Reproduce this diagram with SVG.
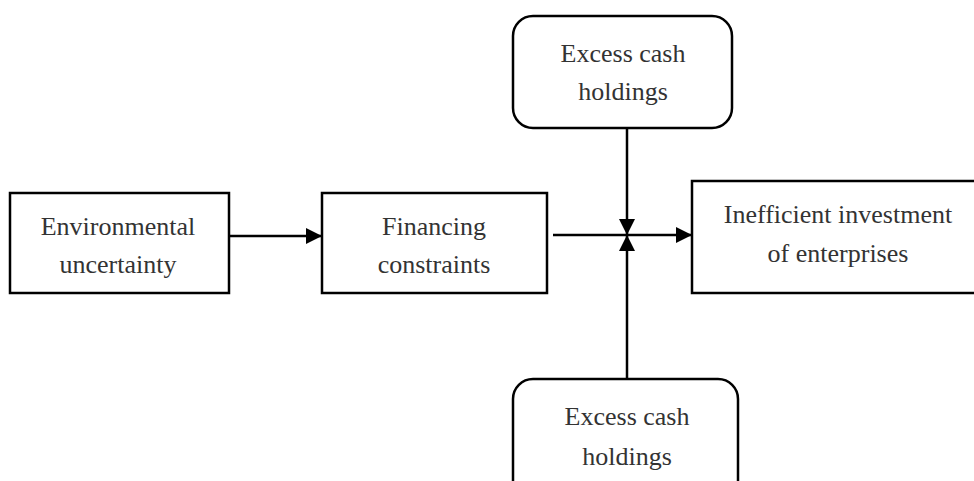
<svg xmlns="http://www.w3.org/2000/svg" width="974" height="481" viewBox="0 0 974 481">
<defs>
<style>
.box{fill:#fff;stroke:#000;stroke-width:2.5}
.t{font-family:"Liberation Serif","Times New Roman",serif;font-size:26px;fill:#333;text-anchor:middle}
.c{stroke:#000;stroke-width:2.5;fill:none}
</style>
<marker id="ah" viewBox="0 0 10 10" refX="10" refY="5" markerWidth="6" markerHeight="6" markerUnits="userSpaceOnUse" orient="auto">
<path d="M0,0 L10,5 L0,10 z" fill="#000"/>
</marker>
<marker id="ah2" viewBox="0 0 10 10" refX="10" refY="5" markerWidth="16" markerHeight="16" markerUnits="userSpaceOnUse" orient="auto">
<path d="M0,0 L10,5 L0,10 z" fill="#000"/>
</marker>
</defs>
<g id="connectors">
<line class="c" x1="229" y1="236" x2="322" y2="236" marker-end="url(#ah2)"/>
<line class="c" x1="553" y1="235" x2="692" y2="235" marker-end="url(#ah2)"/>
<line class="c" x1="627" y1="122" x2="627" y2="235" marker-end="url(#ah2)"/>
<line class="c" x1="627" y1="385" x2="627" y2="235" marker-end="url(#ah2)"/>
</g>
<g id="env">
<rect class="box" x="10" y="193" width="219" height="100"/>
<text class="t" x="118" y="235">Environmental</text>
<text class="t" x="118" y="273">uncertainty</text>
</g>
<g id="fin">
<rect class="box" x="322" y="193" width="225" height="100"/>
<text class="t" x="434" y="235">Financing</text>
<text class="t" x="434" y="273">constraints</text>
</g>
<g id="ineff">
<rect class="box" x="692" y="181" width="300" height="112"/>
<text class="t" x="838" y="223">Inefficient investment</text>
<text class="t" x="838" y="262">of enterprises</text>
</g>
<g id="cash-top">
<rect class="box" x="513" y="16" width="219" height="112" rx="20" ry="20"/>
<text class="t" x="623" y="62">Excess cash</text>
<text class="t" x="623" y="100">holdings</text>
</g>
<g id="cash-bottom">
<rect class="box" x="513" y="379" width="225" height="130" rx="20" ry="20"/>
<text class="t" x="627" y="425">Excess cash</text>
<text class="t" x="627" y="465">holdings</text>
</g>
</svg>
